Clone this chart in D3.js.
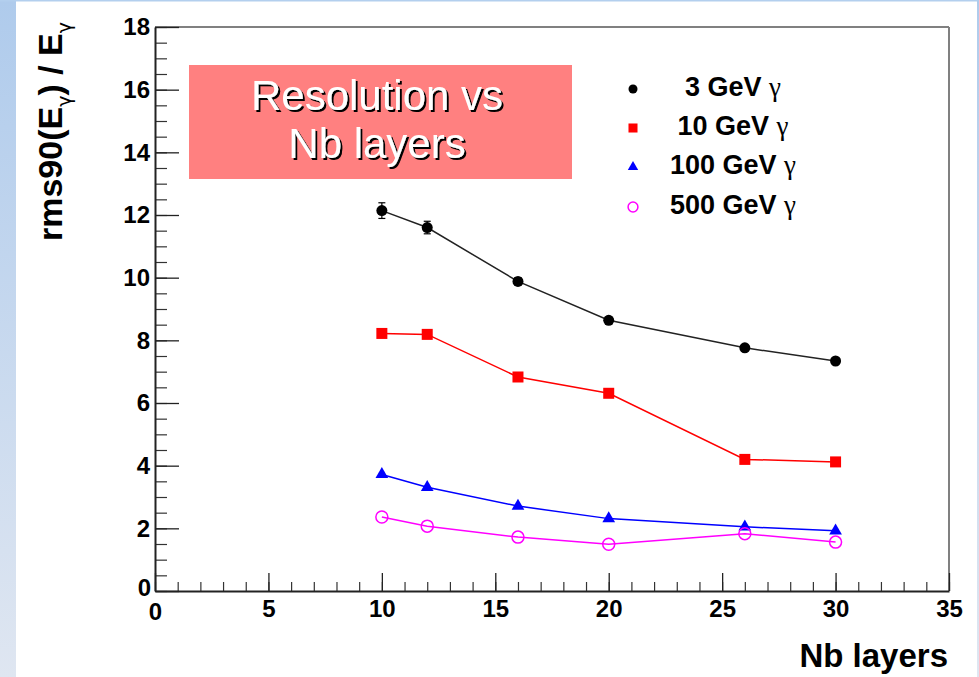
<!DOCTYPE html>
<html>
<head>
<meta charset="utf-8">
<script src="https://cdn.jsdelivr.net/npm/d3@7"></script>
<style>
  html, body { margin: 0; padding: 0; background: #fff; }
  svg { display: block; }
</style>
</head>
<body>
<div id="chart"></div>
<script>
// Data
const layers = [10, 12, 16, 20, 26, 30];
const res3 = [12.14, 11.6, 9.88, 8.64, 7.76, 7.34];
const err3 = [0.25, 0.2, 0.12, 0.1, 0.06, 0.06];
const res10 = [8.22, 8.19, 6.83, 6.31, 4.2, 4.12];
const res100 = [3.72, 3.31, 2.71, 2.31, 2.05, 1.92];
const res500 = [2.36, 2.07, 1.72, 1.49, 1.83, 1.56];
const seriesNames = ["3 GeV", "10 GeV", "100 GeV", "500 GeV"];
const xTicks = [0, 5, 10, 15, 20, 25, 30, 35];
const yTicks = [0, 2, 4, 6, 8, 10, 12, 14, 16, 18];

const W = 979, H = 677;
const frame = { left: 155, right: 949, top: 27, bottom: 591 };

const svg = d3.select("#chart").append("svg")
    .attr("width", W)
    .attr("height", H);

// slide background strips
const defs = svg.append("defs");
const grad = defs.append("linearGradient")
    .attr("id", "strip")
    .attr("x1", 0).attr("y1", 0).attr("x2", 0).attr("y2", 1);
grad.append("stop").attr("offset", "0%").attr("stop-color", "#afcbec");
grad.append("stop").attr("offset", "100%").attr("stop-color", "#dfe6f1");

const shadow = defs.append("filter").attr("id", "shadow")
    .attr("x", "-10%").attr("y", "-20%").attr("width", "130%").attr("height", "150%");
shadow.append("feDropShadow")
    .attr("dx", 2).attr("dy", 2).attr("stdDeviation", 0.3)
    .attr("flood-color", "#000").attr("flood-opacity", 1);

svg.append("rect").attr("x", 0).attr("y", 0).attr("width", W).attr("height", H).attr("fill", "#fff");
svg.append("rect").attr("x", 0).attr("y", 0).attr("width", 16).attr("height", H).attr("fill", "url(#strip)");
svg.append("rect").attr("x", 0).attr("y", 0).attr("width", W).attr("height", 1.5).attr("fill", "#b3cfee");
svg.append("rect").attr("x", 977).attr("y", 0).attr("width", 2).attr("height", H).attr("fill", "url(#strip)");

const x = d3.scaleLinear().domain([0, 35]).range([frame.left, frame.right]);
const y = d3.scaleLinear().domain([0, 18]).range([frame.bottom, frame.top]);

// frame top / right (grey)
svg.append("line")
    .attr("x1", frame.left).attr("x2", frame.right)
    .attr("y1", frame.top).attr("y2", frame.top)
    .attr("stroke", "#808080").attr("stroke-width", 2);
svg.append("line")
    .attr("x1", frame.right).attr("x2", frame.right)
    .attr("y1", frame.top).attr("y2", frame.bottom)
    .attr("stroke", "#808080").attr("stroke-width", 2);

// minor ticks
svg.append("g")
    .attr("transform", `translate(0,${frame.bottom})`)
    .call(d3.axisBottom(x).tickValues(d3.range(0, 36, 1)).tickSize(-9).tickSizeOuter(0).tickFormat(""))
    .call(g => g.select(".domain").remove())
    .call(g => g.selectAll("line").attr("stroke", "#333").attr("stroke-width", 1.2));
svg.append("g")
    .attr("transform", `translate(${frame.left},0)`)
    .call(d3.axisLeft(y).tickValues(d3.range(0, 18.01, 0.5)).tickSize(-12).tickSizeOuter(0).tickFormat(""))
    .call(g => g.select(".domain").remove())
    .call(g => g.selectAll("line").attr("stroke", "#333").attr("stroke-width", 1.2));

// major axes
const xAxis = svg.append("g")
    .attr("transform", `translate(0,${frame.bottom})`)
    .call(d3.axisBottom(x).tickValues(xTicks).tickSize(-18).tickSizeOuter(0).tickPadding(9));
const yAxis = svg.append("g")
    .attr("transform", `translate(${frame.left},0)`)
    .call(d3.axisLeft(y).tickValues(yTicks).tickSize(-24).tickSizeOuter(0).tickPadding(5));

[xAxis, yAxis].forEach(a => {
    a.select(".domain").attr("stroke", "#222").attr("stroke-width", 2);
    a.selectAll("line").attr("stroke", "#222").attr("stroke-width", 1.3);
    a.selectAll("text")
        .attr("fill", "#000")
        .style("font-family", "'Liberation Sans', Arial, sans-serif")
        .style("font-weight", "bold")
        .style("font-size", "24px");
});
// the "0" labels sit a little apart at the origin, like ROOT
yAxis.selectAll(".tick text").filter(d => d === 0).attr("dy", "0.2em").attr("x", -4);
xAxis.selectAll(".tick text").filter(d => d === 0).attr("y", 12);

// axis titles
svg.append("text")
    .attr("x", 948).attr("y", 667)
    .attr("text-anchor", "end")
    .style("font-family", "'Liberation Sans', Arial, sans-serif")
    .style("font-weight", "bold")
    .style("font-size", "33px")
    .text("Nb layers");

const yTitle = svg.append("text")
    .attr("transform", "translate(62,241) rotate(-90)")
    .attr("text-anchor", "start")
    .style("font-family", "'Liberation Sans', Arial, sans-serif")
    .style("font-weight", "bold")
    .style("font-size", "34px");
yTitle.append("tspan").text("rms90(E");
yTitle.append("tspan").attr("dy", 9).style("font-size", "19px").style("font-weight", "normal")
    .style("font-family", "'DejaVu Sans', sans-serif").text("γ");
yTitle.append("tspan").attr("dy", -9).text(") / E");
yTitle.append("tspan").attr("dy", 9).style("font-size", "19px").style("font-weight", "normal")
    .style("font-family", "'DejaVu Sans', sans-serif").text("γ");

// pink title box
svg.append("rect")
    .attr("x", 189).attr("y", 65).attr("width", 383).attr("height", 114)
    .attr("fill", "#ff8080");
const boxLines = ["Resolution vs", "Nb layers"];
const boxBase = [110, 158];
boxLines.forEach((t, i) => {
    svg.append("text")
        .attr("x", 377).attr("y", boxBase[i])
        .attr("text-anchor", "middle")
        .attr("fill", "#fff")
        .attr("filter", "url(#shadow)")
        .style("font-family", "'Liberation Sans', Arial, sans-serif")
        .style("font-size", "42px")
        .text(t);
});

// series
const series = [
    { name: seriesNames[0], vals: res3, err: err3, color: "#000", line: "#222", shape: "circle" },
    { name: seriesNames[1], vals: res10, color: "#ff0000", line: "#ff0000", shape: "square" },
    { name: seriesNames[2], vals: res100, color: "#0000ff", line: "#0000ff", shape: "triangle" },
    { name: seriesNames[3], vals: res500, color: "#ff00ff", line: "#ff00ff", shape: "open" }
];

const lineGen = d3.line().x(d => x(d[0])).y(d => y(d[1]));

function drawMarker(g, shape, color, cx, cy, k) {
    if (shape === "circle") {
        g.append("circle").attr("cx", cx).attr("cy", cy).attr("r", 5.5 * k).attr("fill", color);
    } else if (shape === "square") {
        g.append("rect").attr("x", cx - 5.5 * k).attr("y", cy - 5.5 * k)
            .attr("width", 11 * k).attr("height", 11 * k).attr("fill", color);
    } else if (shape === "triangle") {
        g.append("path")
            .attr("d", d3.symbol().type(d3.symbolTriangle).size(70 * k * k)())
            .attr("transform", `translate(${cx},${cy})`)
            .attr("fill", color);
    } else {
        g.append("circle").attr("cx", cx).attr("cy", cy).attr("r", 6 * k)
            .attr("fill", "none").attr("stroke", color).attr("stroke-width", 1.5);
    }
}

series.forEach(s => {
    const pts = layers.map((l, i) => [l, s.vals[i]]);
    svg.append("path")
        .datum(pts)
        .attr("d", lineGen)
        .attr("fill", "none")
        .attr("stroke", s.line)
        .attr("stroke-width", 1.5);
    const g = svg.append("g");
    if (s.err) {
        pts.forEach((p, i) => {
            const x0 = x(p[0]);
            const y1 = y(p[1] + s.err[i]), y2 = y(p[1] - s.err[i]);
            g.append("line").attr("x1", x0).attr("x2", x0).attr("y1", y1).attr("y2", y2).attr("stroke", "#000").attr("stroke-width", 1.2);
            [y1, y2].forEach(yy => g.append("line").attr("x1", x0 - 3.5).attr("x2", x0 + 3.5)
                .attr("y1", yy).attr("y2", yy).attr("stroke", "#000").attr("stroke-width", 1.2));
        });
    }
    pts.forEach(p => drawMarker(g, s.shape, s.color, x(p[0]), y(p[1]), 1));
});

// legend
const legendY = [89, 128, 167, 207];
series.forEach((s, i) => {
    const g = svg.append("g");
    drawMarker(g, s.shape, s.color, 633, legendY[i], 0.82);
    const t = g.append("text")
        .attr("x", 733).attr("y", legendY[i] + 7)
        .attr("text-anchor", "middle")
        .style("font-family", "'Liberation Sans', Arial, sans-serif")
        .style("font-weight", "bold")
        .style("font-size", "27px");
    t.append("tspan").text(s.name + " ");
    t.append("tspan").style("font-family", "'Liberation Serif', 'Times New Roman', serif")
        .style("font-weight", "normal").text("γ");
});
</script>
</body>
</html>
